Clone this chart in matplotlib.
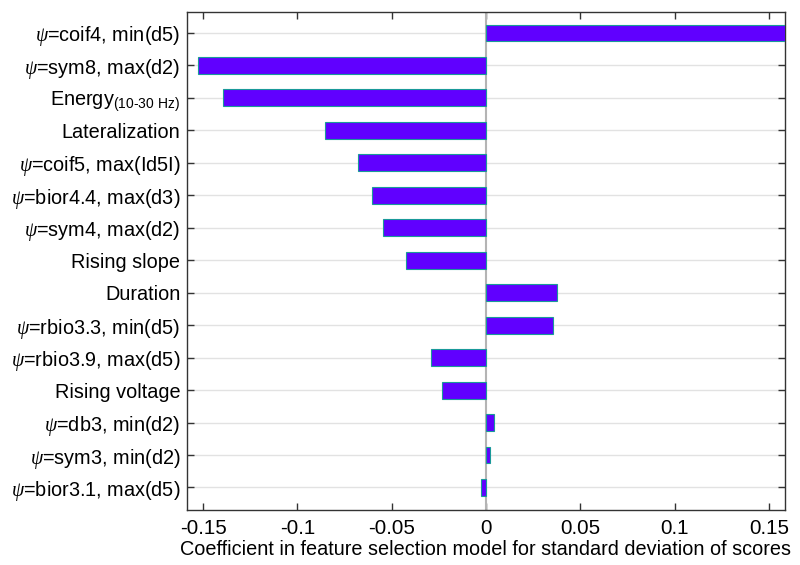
import matplotlib
matplotlib.use('Agg')
import matplotlib.pyplot as plt
import numpy as np

plt.rcParams['font.family'] = ['Liberation Sans', 'DejaVu Sans']
plt.rcParams['mathtext.fontset'] = 'custom'
plt.rcParams['mathtext.rm'] = 'Liberation Sans'
plt.rcParams['mathtext.it'] = 'Liberation Serif:italic'

features = [r'$\it{\psi}$=coif4, min(d5)', r'$\it{\psi}$=sym8, max(d2)',
            r'Energy$_{\text{(10-30 Hz)}}$', 'Lateralization',
            r'$\it{\psi}$=coif5, max(Id5I)', r'$\it{\psi}$=bior4.4, max(d3)',
            r'$\it{\psi}$=sym4, max(d2)', 'Rising slope', 'Duration',
            r'$\it{\psi}$=rbio3.3, min(d5)', r'$\it{\psi}$=rbio3.9, max(d5)',
            'Rising voltage', r'$\it{\psi}$=db3, min(d2)',
            r'$\it{\psi}$=sym3, min(d2)', r'$\it{\psi}$=bior3.1, max(d5)']
coef = [0.160, -0.1527, -0.1394, -0.0854, -0.0679, -0.0604, -0.0546, -0.0424,
        0.0376, 0.0355, -0.0292, -0.0236, 0.0041, 0.0021, -0.0025]
xticks = [-0.15, -0.1, -0.05, 0, 0.05, 0.1, 0.15]
xticklabels = ['-0.15', '-0.1', '-0.05', '0', '0.05', '0.1', '0.15']

fig = plt.figure(figsize=(8, 5.65), dpi=100)
ax = fig.add_axes([0.234, 0.097, 0.747, 0.882])

pos = np.arange(1, len(features) + 1)
ax.barh(pos, coef, height=0.52, color='#6000ff', edgecolor='#1a9a9a',
        linewidth=0.8, zorder=3)
ax.axvline(0, color='#b4b4b4', lw=1.5, zorder=2)
for p in pos:
    ax.axhline(p, color='#e2e2e2', lw=1.0, zorder=1)

ax.set_xlim(-0.1585, 0.1585)
ax.set_ylim(15.7, 0.35)
ax.set_yticks(pos)
ax.set_yticklabels(features, fontsize=14.3)
ax.set_xticks(xticks)
ax.set_xticklabels(xticklabels, fontsize=14.8)
ax.set_xlabel('Coefficient in feature selection model for standard deviation of scores',
              fontsize=14.3, labelpad=2)

ax.tick_params(direction='in', top=True, right=True, length=5, width=1,
               color='#333333', pad=5)
ax.tick_params(axis='x', pad=6)
for s in ax.spines.values():
    s.set_color('#333333')
    s.set_linewidth(1.0)

fig.savefig('out.png', dpi=100)
